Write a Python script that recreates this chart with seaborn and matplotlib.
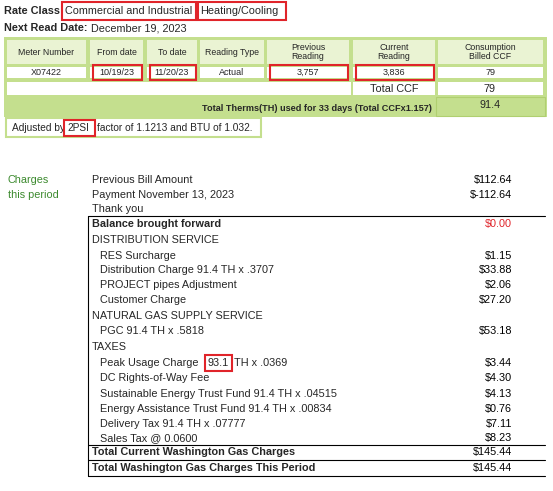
import matplotlib
matplotlib.use("Agg")
import matplotlib.pyplot as plt
import seaborn as sns
from matplotlib.patches import Rectangle

sns.set_theme(style="white")
plt.rcParams['font.family'] = ['Liberation Sans', 'DejaVu Sans']

headers = ["Meter Number", "From date", "To date", "Reading Type", "Previous\nReading", "Current\nReading", "Consumption\nBilled CCF"]
row_vals = ["X07422", "10/19/23", "11/20/23", "Actual", "3,757", "3,836", "79"]
col_x = [(7, 86), (90, 143), (147, 197), (200, 264), (267, 349), (353, 435), (438, 543)]
boxed_cols = [1, 2, 4, 5]

charge_labels = ["Previous Bill Amount", "Payment November 13, 2023", "Thank you", "Balance brought forward",
                 "DISTRIBUTION SERVICE", "RES Surcharge", "Distribution Charge 91.4 TH x .3707",
                 "PROJECT pipes Adjustment", "Customer Charge", "NATURAL GAS SUPPLY SERVICE",
                 "PGC 91.4 TH x .5818", "TAXES", "Peak Usage Charge ", "DC Rights-of-Way Fee",
                 "Sustainable Energy Trust Fund 91.4 TH x .04515", "Energy Assistance Trust Fund 91.4 TH x .00834",
                 "Delivery Tax 91.4 TH x .07777", "Sales Tax @ 0.0600",
                 "Total Current Washington Gas Charges", "Total Washington Gas Charges This Period"]
charge_amounts = ["$112.64", "$-112.64", "", "$0.00", "", "$1.15", "$33.88", "$2.06", "$27.20", "",
                  "$53.18", "", "$3.44", "$4.30", "$4.13", "$0.76", "$7.11", "$8.23", "$145.44", "$145.44"]
charge_y = [180, 195, 209, 224, 240, 256, 270, 285, 300, 316, 331, 347, 363, 378, 394, 409, 424, 438, 452, 468]
indent = [0, 0, 0, 0, 0, 1, 1, 1, 1, 0, 1, 0, 1, 1, 1, 1, 1, 1, 0, 0]
bold = [0, 0, 0, 1, 0, 0, 0, 0, 0, 0, 0, 0, 0, 0, 0, 0, 0, 0, 1, 1]

fig = plt.figure(figsize=(5.53, 4.91), dpi=100)
ax = fig.add_axes([0, 0, 1, 1])
ax.set_xlim(0, 553); ax.set_ylim(491, 0); ax.axis("off")
FS = 7.8
GREEN = "#c4df8e"; LIGHT = "#eaf3d3"; RED = "#e0242a"

def rbox(x0, y0, x1, y1):
    ax.add_patch(Rectangle((x0, y0), x1 - x0, y1 - y0, fill=False, ec=RED, lw=1.5, zorder=5))

ax.text(4, 11, "Rate Class:", fontsize=FS, weight="bold", va="center")
ax.text(65, 11, "Commercial and Industrial", fontsize=FS, va="center")
ax.text(200, 11, "Heating/Cooling", fontsize=FS, va="center")
rbox(62, 2, 196, 20); rbox(198, 2, 286, 20)
ax.text(4, 28, "Next Read Date:", fontsize=FS, weight="bold", va="center")
ax.text(91, 28, "December 19, 2023", fontsize=FS, va="center")

ax.add_patch(Rectangle((4, 37), 543, 80, fc=GREEN, ec="none"))
for i, (x0, x1) in enumerate(col_x):
    ax.add_patch(Rectangle((x0, 40), x1 - x0, 24, fc=LIGHT, ec="none"))
    ax.text((x0 + x1) / 2, 52, headers[i], fontsize=6.3, ha="center", va="center", linespacing=1.1)
    ax.add_patch(Rectangle((x0, 67), x1 - x0, 11, fc="white", ec="none"))
    ax.text((x0 + x1) / 2, 72.5, row_vals[i], fontsize=6.5, ha="center", va="center")
    if i in boxed_cols:
        rbox(x0 + 3, 65, x1 - 1, 80)
ax.add_patch(Rectangle((7, 82), 344, 13, fc="white", ec="none"))
ax.add_patch(Rectangle((353, 82), 82, 13, fc="white", ec="none"))
ax.text(394, 89, "Total CCF", fontsize=FS, ha="center", va="center")
ax.add_patch(Rectangle((438, 82), 105, 13, fc="white", ec="none"))
ax.text(490, 89, "79", fontsize=FS, ha="center", va="center")
ax.text(432, 108, "Total Therms(TH) used for 33 days (Total CCFx1.157)", fontsize=6.6, weight="bold", ha="right", va="center")
ax.add_patch(Rectangle((436, 97), 109, 19, fc=GREEN, ec="#b0cf70", lw=0.8))
ax.text(490, 105, "91.4", fontsize=FS, ha="center", va="center")
ax.add_patch(Rectangle((6, 118), 255, 19, fc="white", ec=GREEN, lw=1.5))
ax.text(12, 128, "Adjusted by", fontsize=7.3, va="center")
ax.text(67, 128, "2PSI", fontsize=7.3, va="center")
ax.text(97, 128, "factor of 1.1213 and BTU of 1.032.", fontsize=7.3, va="center")
rbox(64, 120, 95, 136)

ax.text(8, 180, "Charges", fontsize=FS, color="#3c8a2e", va="center")
ax.text(8, 195, "this period", fontsize=FS, color="#3c8a2e", va="center")
for lab, amt, y, ind, b in zip(charge_labels, charge_amounts, charge_y, indent, bold):
    x = 100 if ind else 92
    ax.text(x, y, lab, fontsize=FS, va="center", weight="bold" if b else "normal")
    if amt:
        ax.text(512, y, amt, fontsize=FS, ha="right", va="center",
                color=RED if amt == "$0.00" else "black")
ax.text(207, 363, "93.1", fontsize=FS, va="center")
ax.text(234, 363, "TH x .0369", fontsize=FS, va="center")
rbox(205, 355, 232, 371)
for y in (216, 445, 460, 476):
    ax.plot([88, 545], [y, y], color="black", lw=0.8)
ax.plot([88, 88], [216, 476], color="black", lw=0.8)

fig.savefig("out.png", dpi=100)
